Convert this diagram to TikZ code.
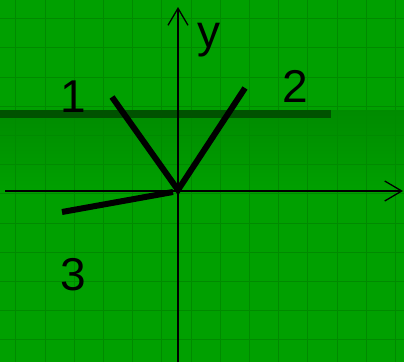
\documentclass[tikz,border=0pt]{standalone}
\usepackage{fontspec}
\setmainfont{Liberation Sans}
\usepackage{tikz}
\usetikzlibrary{arrows.meta}
\definecolor{bggreen}{HTML}{00A000}
\definecolor{bandgreen}{HTML}{008B00}
\definecolor{gridgreen}{HTML}{008A00}
\definecolor{bargreen}{HTML}{005200}
\tikzset{
  axis/.style={line width=1.3pt, -{Straight Barb[length=17pt,width=20pt,line width=1.3pt]}},
  arm/.style={line width=6pt},
  bar/.style={line width=8pt, bargreen},
  lbl/.style={font=\fontsize{46}{50}\selectfont, inner sep=0pt, anchor=base}
}

\begin{document}
\begin{tikzpicture}[x=1pt,y=-1pt]
		% Hintergrund
		\fill[bggreen] (0,0) rectangle (404,362);
		\shade[top color=bandgreen, bottom color=bggreen] (0,110) rectangle (404,190);
		\useasboundingbox (0,0) rectangle (404,362);
		
		% Gitter
		\foreach \i in {0,...,13} \draw[gridgreen, line width=0.8pt] (15.7+29.2*\i,0) -- (15.7+29.2*\i,362);
		\foreach \j in {0,...,11} \draw[gridgreen, line width=0.8pt] (0,18.5+29.2*\j) -- (404,18.5+29.2*\j);
		
		% Balken
		\draw[bar] (0,114) -- (331,114);
		
		% Achsen
		\coordinate (O) at (178,190);
		\coordinate (xs) at (5,191);
		\coordinate (xe) at (403,191);
		\coordinate (ys) at (178,362);
		\coordinate (ye) at (178,7);
		\draw[axis] (xs) -- (xe);
		\draw[axis] (ys) -- (ye);
		
		% Arme
		\coordinate (P1) at (112,97);
		\coordinate (P2) at (245,88);
		\coordinate (P3) at (62,212);
		\coordinate (O3) at (173,192);
		\draw[arm] (P1) -- (O) -- (P2);
		\draw[arm] (P3) -- (O3);
		
		% Beschriftung
		\node[lbl] (ly) at (209,47) {y};
		\node[lbl] (l1) at (73,112) {1};
		\node[lbl] (l2) at (295,102) {2};
		\node[lbl] (l3) at (73,290) {3};
	\end{tikzpicture}
\end{document}
